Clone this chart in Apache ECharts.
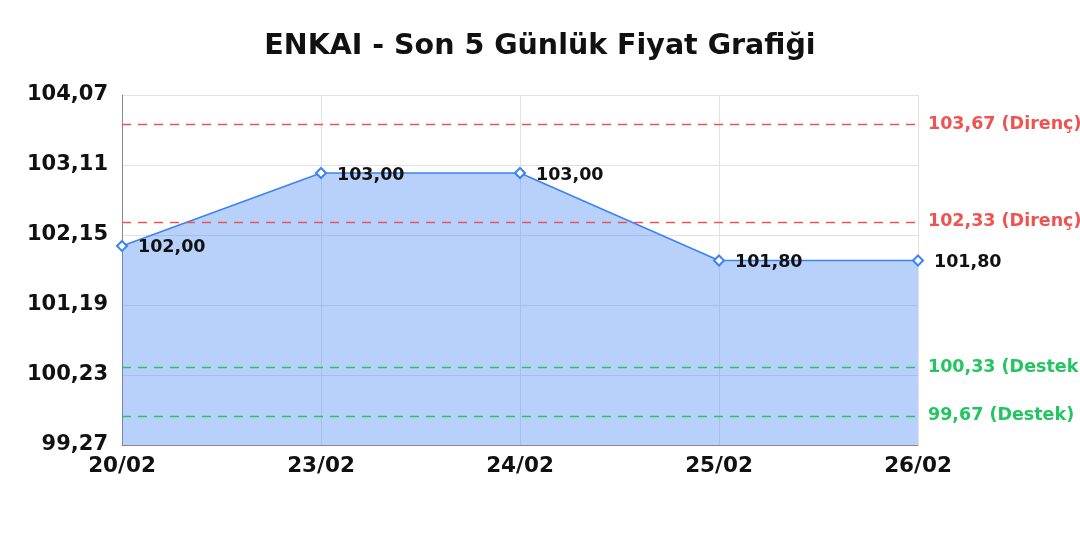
<!DOCTYPE html>
<html><head><meta charset="utf-8">
<script src="https://cdn.jsdelivr.net/npm/echarts@6/dist/echarts.min.js"></script>
<style>html,body{margin:0;padding:0;background:#fff}#c{width:1080px;height:540px}</style>
</head><body><div id="c"></div>
<script>
const categories = ['20/02','23/02','24/02','25/02','26/02'];
const prices = [102.00, 103.00, 103.00, 101.80, 101.80];
const resistance = [103.67, 102.33];
const support = [100.33, 99.67];
const yMin = 99.27, yMax = 104.07, yStep = 0.96;
const fmt = v => v.toFixed(2).replace('.', ',');
const FONT = "'DejaVu Sans', sans-serif";
const chart = echarts.init(document.getElementById('c'));
const markData = [];
resistance.forEach(v => markData.push({yAxis: v, lineStyle:{color:'#ef5350'}, label:{color:'#ef5350', formatter: fmt(v) + ' (Direnç)'}}));
support.forEach(v => markData.push({yAxis: v, lineStyle:{color:'#22c55e'}, label:{color:'#22c55e', formatter: fmt(v) + ' (Destek)'}}));
chart.setOption({
  animation:false,
  textStyle:{fontFamily:FONT},
  title:{text:'ENKAI - Son 5 Günlük Fiyat Grafiği', left:'center', top:27,
    textStyle:{fontFamily:FONT, fontSize:28.5, fontWeight:'bold', color:'#111'}},
  grid:{left:122, right:162, top:95, bottom:95},
  xAxis:{type:'category', data:categories, boundaryGap:false,
    axisLine:{lineStyle:{color:'#888'}}, axisTick:{show:false},
    axisLabel:{fontFamily:FONT, fontSize:21.5, fontWeight:'bold', color:'#111', margin:10},
    splitLine:{show:true, lineStyle:{color:'#e2e2e2'}}},
  yAxis:{type:'value', min:yMin, max:yMax, interval:yStep,
    axisLine:{show:true, lineStyle:{color:'#888'}}, axisTick:{show:false},
    axisLabel:{fontFamily:FONT, fontSize:21, fontWeight:'bold', color:'#111', margin:14,
      formatter: v => fmt(v)},
    splitLine:{lineStyle:{color:'#e2e2e2'}}},
  series:[{
    type:'line', data:prices, symbol:'diamond', symbolSize:10,
    itemStyle:{color:'#fff', borderColor:'#3b82f6', borderWidth:2},
    lineStyle:{color:'#3b82f6', width:1.5},
    areaStyle:{color:'rgba(66,133,244,0.38)', opacity:1},
    label:{show:true, position:'right', distance:10, fontFamily:FONT, fontSize:17.5, fontWeight:'bold', color:'#111',
      offset:[0,2], formatter: p => fmt(p.value)},
    markLine:{symbol:'none', silent:true,
      lineStyle:{type:[9,7], width:1.3},
      label:{position:'end', distance:10, fontFamily:FONT, fontSize:17.5, fontWeight:'bold'},
      data: markData}
  }]
});
</script></body></html>
